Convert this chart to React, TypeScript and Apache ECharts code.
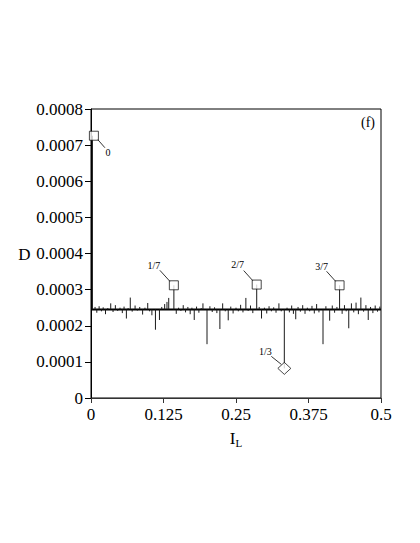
import React, { useEffect, useRef } from "react";
import * as echarts from "echarts";

// ---- data ----
const baselineD = 0.000245;

const spikeIL = [
  0.0025, 0.007, 0.010, 0.014, 0.018, 0.021, 0.025, 0.029, 0.034, 0.038,
  0.042, 0.046, 0.050, 0.054, 0.057, 0.061, 0.064, 0.0677, 0.071, 0.076,
  0.080, 0.084, 0.089, 0.093, 0.0978, 0.101, 0.105, 0.1111, 0.118, 0.122,
  0.127, 0.131, 0.134, 0.1429, 0.147, 0.151, 0.155, 0.159, 0.163, 0.167,
  0.171, 0.174, 0.178, 0.182, 0.186, 0.190, 0.193, 0.2, 0.205, 0.209,
  0.213, 0.217, 0.2222, 0.227, 0.2315, 0.2366, 0.241, 0.245, 0.250, 0.254,
  0.258, 0.262, 0.267, 0.271, 0.275, 0.279, 0.2857, 0.290, 0.294, 0.299,
  0.303, 0.307, 0.311, 0.315, 0.319, 0.324, 0.328, 0.3333, 0.338, 0.342,
  0.346, 0.349, 0.353, 0.357, 0.361, 0.365, 0.369, 0.373, 0.377, 0.381,
  0.385, 0.389, 0.393, 0.4, 0.405, 0.4115, 0.416, 0.420, 0.424, 0.4286,
  0.433, 0.437, 0.440, 0.4444, 0.449, 0.453, 0.457, 0.461, 0.4653, 0.470,
  0.474, 0.478, 0.482, 0.486, 0.490, 0.494, 0.498,
];

const spikeD = [
  0.000726, 0.000252, 0.000236, 0.000254, 0.000240, 0.000251, 0.000232, 0.000249, 0.000262, 0.000238,
  0.000257, 0.000241, 0.000250, 0.000235, 0.000253, 0.000220, 0.000249, 0.000278, 0.000239, 0.000256,
  0.000242, 0.000252, 0.000231, 0.000250, 0.000263, 0.000240, 0.000229, 0.000189, 0.000216, 0.000252,
  0.000260, 0.000266, 0.000277, 0.000312, 0.000233, 0.000250, 0.000241, 0.000257, 0.000237, 0.000252,
  0.000232, 0.000250, 0.000216, 0.000253, 0.000236, 0.000249, 0.000262, 0.000149, 0.000254, 0.000238,
  0.000251, 0.000235, 0.000191, 0.000262, 0.000240, 0.000215, 0.000253, 0.000234, 0.000250, 0.000240,
  0.000258, 0.000237, 0.000277, 0.000241, 0.000256, 0.000235, 0.000314, 0.000252, 0.000220, 0.000250,
  0.000234, 0.000254, 0.000240, 0.000251, 0.000236, 0.000262, 0.000240, 0.000082, 0.000250, 0.000237,
  0.000256, 0.000233, 0.000218, 0.000252, 0.000239, 0.000257, 0.000233, 0.000250, 0.000240, 0.000255,
  0.000234, 0.000260, 0.000237, 0.000149, 0.000254, 0.000214, 0.000256, 0.000236, 0.000252, 0.000312,
  0.000233, 0.000257, 0.000240, 0.000193, 0.000262, 0.000237, 0.000264, 0.000232, 0.000278, 0.000239,
  0.000257, 0.000216, 0.000252, 0.000235, 0.000256, 0.000239, 0.000253,
];

// marked resonances
const squareIL = [0.005, 1 / 7, 2 / 7, 3 / 7];
const squareD = [0.000726, 0.000312, 0.000314, 0.000312];
const squareLabels = ["0", "1/7", "2/7", "3/7"];

const diamondIL = [1 / 3];
const diamondD = [0.000082];
const diamondLabels = ["1/3"];

const xTicks = [0, 0.125, 0.25, 0.375, 0.5];
const yTickStep = 0.0001;

const FONT = "'Liberation Serif', 'Times New Roman', serif";

// label placement (pixel offsets from the marker centre): label centre, leader start, leader end
const squareLabelOffsets = [
  { lx: 14, ly: 17, x1: 4, y1: 4, x2: 11, y2: 12, size: 10 },
  { lx: -20, ly: -20, x1: -4, y1: -4, x2: -14, y2: -15, size: 10 },
  { lx: -19, ly: -20, x1: -4, y1: -4, x2: -13, y2: -14, size: 10 },
  { lx: -18, ly: -19, x1: -4, y1: -4, x2: -13, y2: -14, size: 10 },
];
const diamondLabelOffsets = [
  { lx: -19, ly: -17, x1: -3, y1: -4, x2: -13, y2: -12, size: 10 },
];

function annotationSeries(
  xs: number[],
  ys: number[],
  labels: string[],
  offs: typeof squareLabelOffsets
) {
  return {
    type: "custom",
    z: 5,
    silent: true,
    data: xs.map((x, i) => [x, ys[i], i]),
    renderItem: (params: any, api: any) => {
      const i = api.value(2);
      const p = api.coord([api.value(0), api.value(1)]);
      const o = offs[i];
      return {
        type: "group",
        children: [
          {
            type: "line",
            shape: { x1: p[0] + o.x1, y1: p[1] + o.y1, x2: p[0] + o.x2, y2: p[1] + o.y2 },
            style: { stroke: "#000", lineWidth: 0.8 },
          },
          {
            type: "text",
            x: p[0] + o.lx,
            y: p[1] + o.ly,
            style: {
              text: labels[i],
              fontSize: o.size,
              fontFamily: FONT,
              fill: "#000",
              align: "center",
              verticalAlign: "middle",
            },
          },
        ],
      };
    },
  };
}

export default function App() {
  const ref = useRef<HTMLDivElement>(null);

  useEffect(() => {
    if (!ref.current) return;
    const chart = echarts.init(ref.current, undefined, { renderer: "svg" });

    const option: any = {
      animation: false,
      backgroundColor: "#fff",
      grid: {
        left: 91,
        right: 39,
        top: 109,
        bottom: 145,
        show: true,
        borderColor: "#000",
        borderWidth: 1,
      },
      xAxis: {
        type: "value",
        min: xTicks[0],
        max: xTicks[xTicks.length - 1],
        interval: xTicks[1] - xTicks[0],
        splitLine: { show: false },
        axisLine: { show: true, lineStyle: { color: "#333", width: 1 } },
        axisTick: { show: true, length: 5, lineStyle: { color: "#333" } },
        axisLabel: {
          color: "#000",
          fontFamily: FONT,
          fontSize: 17,
          margin: 8,
          formatter: (v: number) => String(v),
        },
        name: "{i|I}{l|L}",
        nameLocation: "middle",
        nameGap: 30,
        nameTextStyle: {
          rich: {
            i: { fontSize: 17, fontFamily: FONT, color: "#000" },
            l: { fontSize: 11, fontFamily: FONT, color: "#000", padding: [9, 0, 0, 0] },
          },
        },
      },
      yAxis: {
        type: "value",
        min: 0,
        max: 0.0008,
        interval: yTickStep,
        splitLine: { show: false },
        axisLine: { show: true, lineStyle: { color: "#000", width: 1 } },
        axisTick: { show: true, length: 6, lineStyle: { color: "#000" } },
        axisLabel: {
          color: "#000",
          fontFamily: FONT,
          fontSize: 17,
          margin: 8,
          formatter: (v: number) => (v === 0 ? "0" : v.toFixed(4)),
        },
      },
      graphic: [
        {
          type: "text",
          x: 24.5,
          y: 254,
          style: {
            text: "D",
            fontSize: 17,
            fontFamily: FONT,
            fill: "#000",
            align: "center",
            verticalAlign: "middle",
          },
        },
        {
          type: "text",
          x: 368,
          y: 122,
          style: {
            text: "(f)",
            fontSize: 14,
            fontFamily: FONT,
            fill: "#000",
            align: "center",
            verticalAlign: "middle",
          },
        },
      ],
      series: [
        {
          type: "line",
          data: [
            [xTicks[0], baselineD],
            [xTicks[xTicks.length - 1], baselineD],
          ],
          symbol: "none",
          lineStyle: { color: "#000", width: 1.8 },
          z: 2,
          silent: true,
        },
        {
          type: "custom",
          z: 3,
          silent: true,
          data: spikeIL.map((x, i) => [x, spikeD[i]]),
          renderItem: (params: any, api: any) => {
            const p0 = api.coord([api.value(0), baselineD]);
            const p1 = api.coord([api.value(0), api.value(1)]);
            return {
              type: "line",
              shape: { x1: p0[0], y1: p0[1], x2: p1[0], y2: p1[1] },
              style: { stroke: "#1a1a1a", lineWidth: 1 },
            };
          },
        },
        {
          type: "scatter",
          z: 4,
          silent: true,
          symbol: "rect",
          symbolSize: 9,
          itemStyle: { color: "#fff", borderColor: "#000", borderWidth: 0.9 },
          data: squareIL.map((x, i) => [x, squareD[i]]),
        },
        {
          type: "scatter",
          z: 4,
          silent: true,
          symbol: "diamond",
          symbolSize: [13, 12],
          itemStyle: { color: "#fff", borderColor: "#000", borderWidth: 0.9 },
          data: diamondIL.map((x, i) => [x, diamondD[i]]),
        },
        annotationSeries(squareIL, squareD, squareLabels, squareLabelOffsets),
        annotationSeries(diamondIL, diamondD, diamondLabels, diamondLabelOffsets),
      ],
    };

    chart.setOption(option);
    return () => chart.dispose();
  }, []);

  return (
    <div
      ref={ref}
      style={{ position: "fixed", left: 0, top: 0, width: 420, height: 543, background: "#fff" }}
    />
  );
}
